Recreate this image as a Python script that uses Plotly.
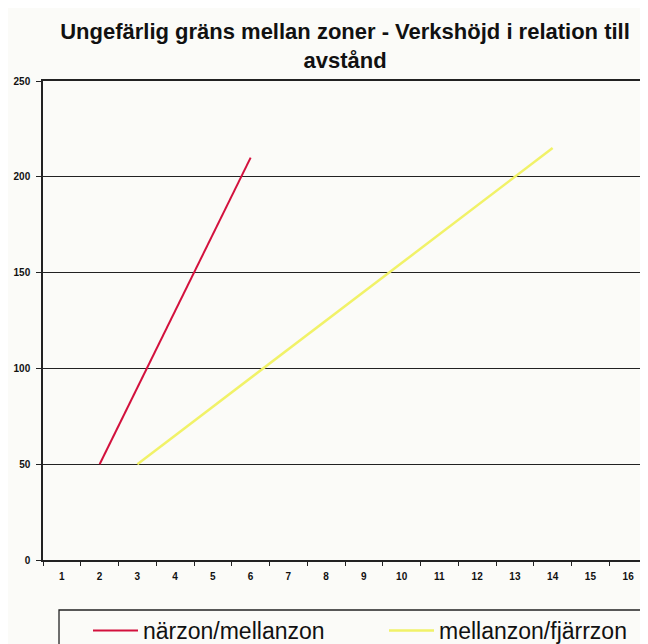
import plotly.graph_objects as go

categories = [str(i) for i in range(1, 17)]
# Values (None where the series has no point; line drawn between end points)
narzon_mellanzon = [None, 50, None, None, None, 210, None, None, None, None, None, None, None, None, None, None]
mellanzon_fjarrzon = [None, None, 50, None, None, None, None, None, None, None, None, None, None, 215, None, None]
y_ticks = [0, 50, 100, 150, 200, 250]

title_text = "Ungefärlig gräns mellan zoner - Verkshöjd i relation till<br>avstånd"

fig = go.Figure()
fig.add_trace(go.Scatter(
    x=categories, y=narzon_mellanzon, mode="lines", connectgaps=True,
    name="närzon/mellanzon", line=dict(color="#d3113d", width=2), legend="legend"))
fig.add_trace(go.Scatter(
    x=categories, y=mellanzon_fjarrzon, mode="lines", connectgaps=True,
    name="mellanzon/fjärrzon", line=dict(color="#f1f268", width=2.5), legend="legend2"))

legend_common = dict(orientation="h", xanchor="left", y=-0.1023, yanchor="top",
                     borderwidth=0, bgcolor="rgba(0,0,0,0)",
                     font=dict(size=23, color="#111111"), itemwidth=45)

fig.update_layout(
    width=640, height=636,
    margin=dict(l=35, r=1, t=73, b=84, autoexpand=False),
    paper_bgcolor="#fbfbf8",
    plot_bgcolor="#fbfbf8",
    font=dict(family="Liberation Sans, Arial, sans-serif", color="#111111"),
    title=dict(text=title_text, x=0.5, xref="paper", xanchor="center",
               y=0.951, yref="container", yanchor="top",
               font=dict(size=22, weight="bold", color="#111111")),
    showlegend=True,
    legend=dict(x=0.0745, **legend_common),
    legend2=dict(x=0.5646, **legend_common),
    shapes=[dict(type="rect", xref="paper", yref="paper",
                 x0=0.0265, x1=1.05, y0=-0.1044, y1=-0.25,
                 line=dict(color="#222222", width=1.3), fillcolor="rgba(0,0,0,0)",
                 layer="below")],
)
fig.update_xaxes(type="category", categoryorder="array", categoryarray=categories,
                 tickson="boundaries", ticks="outside", ticklen=4, tickcolor="#222222",
                 showline=True, linecolor="#222222", linewidth=1.5, showgrid=False,
                 mirror=True, ticklabelstandoff=6,
                 tickfont=dict(size=10, weight="bold"), range=[-0.5, 15.5])
fig.update_yaxes(range=[0, 250], tickvals=y_ticks, ticks="outside", ticklen=5,
                 tickcolor="#222222", showline=True, linecolor="#222222", linewidth=1.5,
                 mirror=True, showgrid=True, gridcolor="#222222", gridwidth=1.3,
                 ticklabelstandoff=4,
                 zeroline=False, tickfont=dict(size=10, weight="bold"))

fig.write_html("out.html")
